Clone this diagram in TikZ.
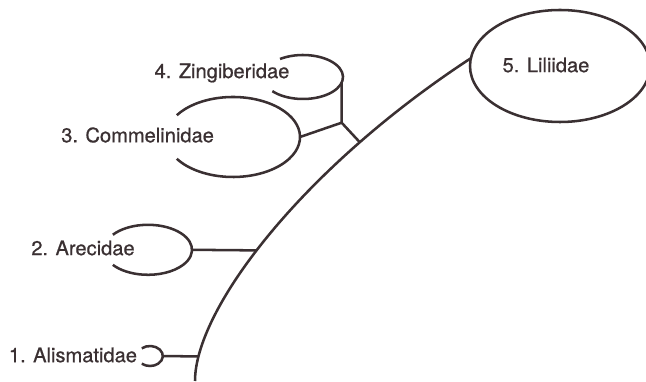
\documentclass[tikz,border=0pt]{standalone}
\usepackage{fontspec}
\setmainfont{TeX Gyre Heros}
\newfontfamily\taxfont{TeX Gyre Heros}[FakeBold=0.7]
\usetikzlibrary{calc,shapes.geometric}
\definecolor{ink}{RGB}{58,48,50}

\begin{document}
\begin{tikzpicture}[line width=1.8pt, draw=ink, text=ink,
  taxon/.style={font=\taxfont\fontsize{14.3}{17}\selectfont}]
  \useasboundingbox (0,0) rectangle (16.15,9.525);
  % 5, closed loop at the top
  \node[ellipse, draw, inner sep=0pt, outer sep=0pt,
        minimum width=4.5cm, minimum height=2.8cm] (lil) at (14.0,7.875) {};
  \node[taxon] (lilT) at (13.65,7.9) {5. Liliidae};
  % main stem
  \draw (4.875,0) .. controls (4.875,1.775) and (7.5,5.275) .. (lil.175)
    coordinate[pos=0.105] (s1) coordinate[pos=0.455] (s2)
    coordinate[pos=0.76] (s34);
  % 4, open loop
  \draw (7.575,7.6) ++(125:1.0 and 0.55)
    arc[start angle=125, end angle=-140, x radius=1.0, y radius=0.55];
  \coordinate (zin) at ($(7.575,7.6)+(-15:1.0 and 0.55)$);
  \node[taxon] (zinT) at (5.55,7.7) {4. Zingiberidae};
  % 3, open loop
  \draw (5.825,6.1) ++(147:1.675 and 1.0)
    arc[start angle=147, end angle=-147, x radius=1.675, y radius=1.0];
  \coordinate (com) at (7.5,6.1);
  \node[taxon] (comT) at (3.44,6.15) {3. Commelinidae};
  % fork joining 3 and 4
  \coordinate (fork) at ($(zin)+(0,-1)$);
  \draw (zin) -- (fork) -- (s34);
  \draw (com) -- (fork);
  % 2, open loop
  \draw (3.7,3.28) ++(143:1.1 and 0.625)
    arc[start angle=143, end angle=-143, x radius=1.1, y radius=0.625];
  \coordinate (are) at (4.8,3.28);
  \node[taxon] (areT) at (2.075,3.325) {2. Arecidae};
  \draw (are) -- (s2);
  % 1, tiny loop
  \draw (3.75,0.625) ++(130:0.32 and 0.25)
    arc[start angle=130, end angle=-130, x radius=0.32, y radius=0.25];
  \coordinate (ali) at (4.07,0.625);
  \node[taxon, anchor=east] (aliT) at (3.575,0.65) {1. Alismatidae};
  \draw (ali) -- (s1);
\end{tikzpicture}
\end{document}
